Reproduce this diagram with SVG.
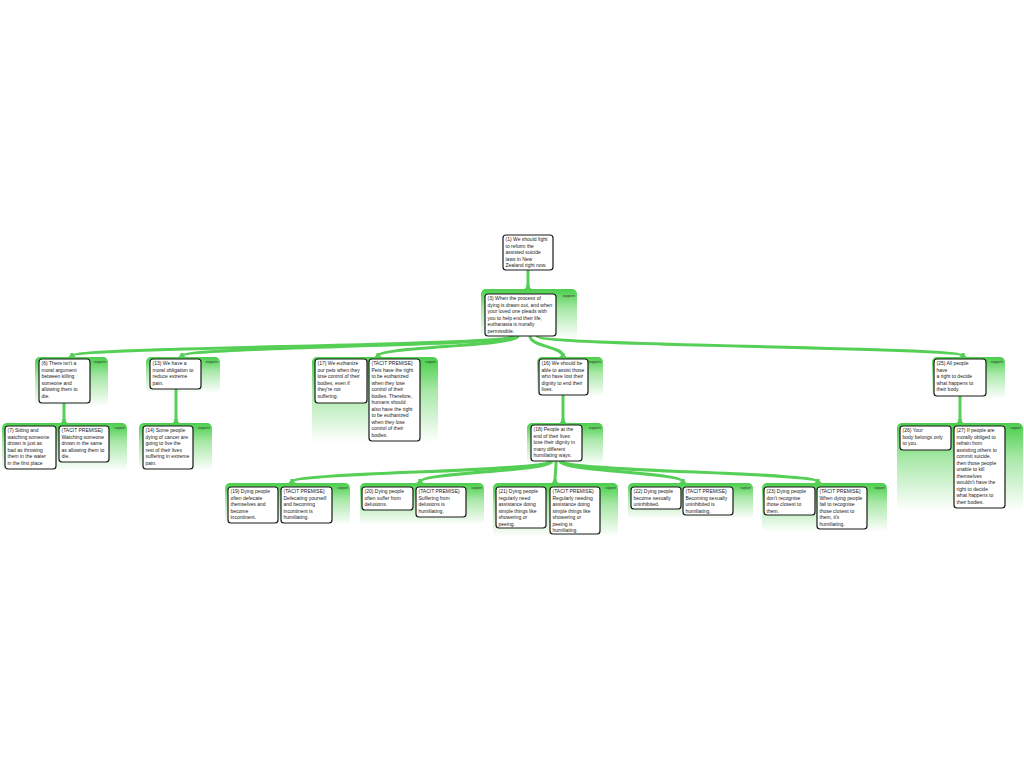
<svg xmlns="http://www.w3.org/2000/svg" width="1024" height="768" viewBox="0 0 1024 768">
<style>
.box{fill:#fff;stroke:#1a1a1a;stroke-width:1.2}
.t{font-family:"Liberation Sans",Arial,sans-serif;font-size:5px;fill:#1a1a1a}
.lab{font-family:"Liberation Sans",Arial,sans-serif;font-size:3.2px;fill:#333;text-anchor:end}
.cont{fill:url(#cg)}
.conn{fill:none;stroke:#55cf55;stroke-width:3;stroke-linecap:round}
.flare{fill:#55cf55}
</style>
<defs>
<linearGradient id="cg" x1="0" y1="0" x2="0" y2="1">
<stop offset="0" stop-color="#4fcd4f"/>
<stop offset="0.08" stop-color="#5ad45a"/>
<stop offset="0.4" stop-color="#a9e8a9"/>
<stop offset="1" stop-color="#ffffff"/>
</linearGradient>
</defs>
<rect width="1024" height="768" fill="#fff"/>

<!-- support containers -->
<g id="support-3"><rect class="cont" x="481" y="289" width="96" height="50" rx="5"/><text class="lab" x="575" y="297">supports</text></g>
<g id="support-6"><rect class="cont" x="35" y="357" width="73" height="50" rx="5"/><text class="lab" x="106" y="363">supports</text></g>
<g id="support-13"><rect class="cont" x="146" y="357" width="74" height="36" rx="5"/><text class="lab" x="218" y="363">supports</text></g>
<g id="support-17"><rect class="cont" x="312" y="357" width="126" height="86" rx="5"/><text class="lab" x="436" y="363">support</text></g>
<g id="support-16"><rect class="cont" x="537" y="357" width="66" height="40" rx="5"/><text class="lab" x="601" y="363">supports</text></g>
<g id="support-25"><rect class="cont" x="932" y="357" width="73" height="42" rx="5"/><text class="lab" x="1003" y="363">supports</text></g>
<g id="support-7"><rect class="cont" x="2" y="423" width="125" height="48" rx="5"/><text class="lab" x="125" y="429">support</text></g>
<g id="support-14"><rect class="cont" x="139" y="423" width="73" height="48" rx="5"/><text class="lab" x="210" y="429">supports</text></g>
<g id="support-18"><rect class="cont" x="527" y="423" width="76" height="42" rx="5"/><text class="lab" x="601" y="429">supports</text></g>
<g id="support-26"><rect class="cont" x="897" y="423" width="126" height="88" rx="5"/><text class="lab" x="1021" y="429">support</text></g>
<g id="support-19"><rect class="cont" x="225" y="483" width="125" height="42" rx="5"/><text class="lab" x="348" y="489">support</text></g>
<g id="support-20"><rect class="cont" x="360" y="483" width="124" height="42" rx="5"/><text class="lab" x="482" y="489">support</text></g>
<g id="support-21"><rect class="cont" x="493" y="483" width="125" height="54" rx="5"/><text class="lab" x="616" y="489">support</text></g>
<g id="support-22"><rect class="cont" x="628" y="483" width="125" height="36" rx="5"/><text class="lab" x="751" y="489">support</text></g>
<g id="support-23"><rect class="cont" x="762" y="483" width="125" height="49" rx="5"/><text class="lab" x="885" y="489">support</text></g>

<!-- connectors -->
<g id="connectors">
<path class="conn" d="M528,270 L528,288"/>
<path class="conn" d="M64,403 L64,422"/>
<path class="conn" d="M176,389 L176,422"/>
<path class="conn" d="M563,395 L563,422"/>
<path class="conn" d="M960,396 L960,422"/>
<path class="conn" d="M511,336 C511,346.5 72,346.5 72,356"/>
<path class="conn" d="M514,336 C514,346.5 182,346.5 182,356"/>
<path class="conn" d="M518,336 C518,346.5 378,346.5 378,356"/>
<path class="conn" d="M530,336 C530,346.5 563,346.5 563,356"/>
<path class="conn" d="M537,336 C537,346.5 963,346.5 963,356"/>
<path class="conn" d="M549,461 C549,472 292,472 292,482"/>
<path class="conn" d="M552,461 C552,472 420,472 420,482"/>
<path class="conn" d="M556,461 C556,472 555,472 555,482"/>
<path class="conn" d="M560,461 C560,472 683,472 683,482"/>
<path class="conn" d="M563,461 C563,472 818,472 818,482"/>
<path class="flare" d="M526.5,285 Q526.5,289.5 521,289.5 L535,289.5 Q529.5,289.5 529.5,285 Z"/>
<path class="flare" d="M62.5,419 Q62.5,423.5 57,423.5 L71,423.5 Q65.5,423.5 65.5,419 Z"/>
<path class="flare" d="M174.5,419 Q174.5,423.5 169,423.5 L183,423.5 Q177.5,423.5 177.5,419 Z"/>
<path class="flare" d="M561.5,419 Q561.5,423.5 556,423.5 L570,423.5 Q564.5,423.5 564.5,419 Z"/>
<path class="flare" d="M958.5,419 Q958.5,423.5 953,423.5 L967,423.5 Q961.5,423.5 961.5,419 Z"/>
<path class="flare" d="M70.5,353 Q70.5,357.5 65,357.5 L79,357.5 Q73.5,357.5 73.5,353 Z"/>
<path class="flare" d="M180.5,353 Q180.5,357.5 175,357.5 L189,357.5 Q183.5,357.5 183.5,353 Z"/>
<path class="flare" d="M376.5,353 Q376.5,357.5 371,357.5 L385,357.5 Q379.5,357.5 379.5,353 Z"/>
<path class="flare" d="M561.5,353 Q561.5,357.5 556,357.5 L570,357.5 Q564.5,357.5 564.5,353 Z"/>
<path class="flare" d="M961.5,353 Q961.5,357.5 956,357.5 L970,357.5 Q964.5,357.5 964.5,353 Z"/>
<path class="flare" d="M290.5,479 Q290.5,483.5 285,483.5 L299,483.5 Q293.5,483.5 293.5,479 Z"/>
<path class="flare" d="M418.5,479 Q418.5,483.5 413,483.5 L427,483.5 Q421.5,483.5 421.5,479 Z"/>
<path class="flare" d="M553.5,479 Q553.5,483.5 548,483.5 L562,483.5 Q556.5,483.5 556.5,479 Z"/>
<path class="flare" d="M681.5,479 Q681.5,483.5 676,483.5 L690,483.5 Q684.5,483.5 684.5,479 Z"/>
<path class="flare" d="M816.5,479 Q816.5,483.5 811,483.5 L825,483.5 Q819.5,483.5 819.5,479 Z"/>
</g>

<!-- nodes -->
<g id="node-1"><rect class="box" x="503" y="235" width="50" height="35" rx="3"/>
<text class="t" x="505.5" y="241.2"><tspan x="505.5">(1) We should fight</tspan><tspan x="505.5" dy="6.5">to reform the</tspan><tspan x="505.5" dy="6.5">assisted suicide</tspan><tspan x="505.5" dy="6.5">laws in New</tspan><tspan x="505.5" dy="6.5">Zealand right now.</tspan></text></g>

<g id="node-3"><rect class="box" x="485" y="294" width="71" height="42" rx="3"/>
<text class="t" x="487.5" y="300.2"><tspan x="487.5">(3) When the process of</tspan><tspan x="487.5" dy="6.5">dying is drawn out, and when</tspan><tspan x="487.5" dy="6.5">your loved one pleads with</tspan><tspan x="487.5" dy="6.5">you to help end their life,</tspan><tspan x="487.5" dy="6.5">euthanasia is morally</tspan><tspan x="487.5" dy="6.5">permissible.</tspan></text></g>

<g id="node-6"><rect class="box" x="39" y="359" width="51" height="44" rx="3"/>
<text class="t" x="41.5" y="365.2"><tspan x="41.5">(6) There isn't a</tspan><tspan x="41.5" dy="6.5">moral argument</tspan><tspan x="41.5" dy="6.5">between killing</tspan><tspan x="41.5" dy="6.5">someone and</tspan><tspan x="41.5" dy="6.5">allowing them to</tspan><tspan x="41.5" dy="6.5">die.</tspan></text></g>

<g id="node-13"><rect class="box" x="150" y="359" width="51" height="30" rx="3"/>
<text class="t" x="152.5" y="365.2"><tspan x="152.5">(13) We have a</tspan><tspan x="152.5" dy="6.5">moral obligation to</tspan><tspan x="152.5" dy="6.5">reduce extreme</tspan><tspan x="152.5" dy="6.5">pain.</tspan></text></g>

<g id="node-17"><rect class="box" x="315" y="359" width="52" height="44" rx="3"/>
<text class="t" x="317.5" y="365.2"><tspan x="317.5">(17) We euthanize</tspan><tspan x="317.5" dy="6.5">our pets when they</tspan><tspan x="317.5" dy="6.5">lose control of their</tspan><tspan x="317.5" dy="6.5">bodies, even if</tspan><tspan x="317.5" dy="6.5">they're not</tspan><tspan x="317.5" dy="6.5">suffering.</tspan></text></g>

<g id="node-17t"><rect class="box" x="369" y="359" width="51" height="82" rx="3"/>
<text class="t" x="371.5" y="365.2"><tspan x="371.5">(TACIT PREMISE)</tspan><tspan x="371.5" dy="6.5">Pets have the right</tspan><tspan x="371.5" dy="6.5">to be euthanized</tspan><tspan x="371.5" dy="6.5">when they lose</tspan><tspan x="371.5" dy="6.5">control of their</tspan><tspan x="371.5" dy="6.5">bodies. Therefore,</tspan><tspan x="371.5" dy="6.5">humans should</tspan><tspan x="371.5" dy="6.5">also have the right</tspan><tspan x="371.5" dy="6.5">to be euthanized</tspan><tspan x="371.5" dy="6.5">when they lose</tspan><tspan x="371.5" dy="6.5">control of their</tspan><tspan x="371.5" dy="6.5">bodies.</tspan></text></g>

<g id="node-16"><rect class="box" x="539" y="359" width="49" height="36" rx="3"/>
<text class="t" x="541.5" y="365.2"><tspan x="541.5">(16) We should be</tspan><tspan x="541.5" dy="6.5">able to assist those</tspan><tspan x="541.5" dy="6.5">who have lost their</tspan><tspan x="541.5" dy="6.5">dignity to end their</tspan><tspan x="541.5" dy="6.5">lives.</tspan></text></g>

<g id="node-25"><rect class="box" x="934" y="359" width="52" height="37" rx="3"/>
<text class="t" x="936.5" y="365.2"><tspan x="936.5">(25) All people</tspan><tspan x="936.5" dy="6.5">have</tspan><tspan x="936.5" dy="6.5">a right to decide</tspan><tspan x="936.5" dy="6.5">what happens to</tspan><tspan x="936.5" dy="6.5">their body.</tspan></text></g>

<g id="node-7"><rect class="box" x="5" y="426" width="51" height="43" rx="3"/>
<text class="t" x="7.5" y="432.2"><tspan x="7.5">(7) Sitting and</tspan><tspan x="7.5" dy="6.5">watching someone</tspan><tspan x="7.5" dy="6.5">drown is just as</tspan><tspan x="7.5" dy="6.5">bad as throwing</tspan><tspan x="7.5" dy="6.5">them in the water</tspan><tspan x="7.5" dy="6.5">in the first place</tspan></text></g>

<g id="node-7t"><rect class="box" x="59" y="426" width="50" height="36" rx="3"/>
<text class="t" x="61.5" y="432.2"><tspan x="61.5">(TACIT PREMISE)</tspan><tspan x="61.5" dy="6.5">Watching someone</tspan><tspan x="61.5" dy="6.5">drown in the same</tspan><tspan x="61.5" dy="6.5">as allowing them to</tspan><tspan x="61.5" dy="6.5">die.</tspan></text></g>

<g id="node-14"><rect class="box" x="143" y="426" width="50" height="43" rx="3"/>
<text class="t" x="145.5" y="432.2"><tspan x="145.5">(14) Some people</tspan><tspan x="145.5" dy="6.5">dying of cancer are</tspan><tspan x="145.5" dy="6.5">going to live the</tspan><tspan x="145.5" dy="6.5">rest of their lives</tspan><tspan x="145.5" dy="6.5">suffering in extreme</tspan><tspan x="145.5" dy="6.5">pain.</tspan></text></g>

<g id="node-18"><rect class="box" x="531" y="425" width="51" height="36" rx="3"/>
<text class="t" x="533.5" y="431.2"><tspan x="533.5">(18) People at the</tspan><tspan x="533.5" dy="6.5">end of their lives</tspan><tspan x="533.5" dy="6.5">lose their dignity in</tspan><tspan x="533.5" dy="6.5">many different</tspan><tspan x="533.5" dy="6.5">humiliating ways.</tspan></text></g>

<g id="node-26"><rect class="box" x="900" y="426" width="51" height="24" rx="3"/>
<text class="t" x="902.5" y="432.2"><tspan x="902.5">(26) Your</tspan><tspan x="902.5" dy="6.5">body belongs only</tspan><tspan x="902.5" dy="6.5">to you.</tspan></text></g>

<g id="node-27"><rect class="box" x="954" y="426" width="51" height="82" rx="3"/>
<text class="t" x="956.5" y="432.2"><tspan x="956.5">(27) If people are</tspan><tspan x="956.5" dy="6.5">morally obliged to</tspan><tspan x="956.5" dy="6.5">refrain from</tspan><tspan x="956.5" dy="6.5">assisting others to</tspan><tspan x="956.5" dy="6.5">commit suicide,</tspan><tspan x="956.5" dy="6.5">then those people</tspan><tspan x="956.5" dy="6.5">unable to kill</tspan><tspan x="956.5" dy="6.5">themselves</tspan><tspan x="956.5" dy="6.5">wouldn't have the</tspan><tspan x="956.5" dy="6.5">right to decide</tspan><tspan x="956.5" dy="6.5">what happens to</tspan><tspan x="956.5" dy="6.5">their bodies.</tspan></text></g>

<g id="node-19"><rect class="box" x="228" y="487" width="50" height="36" rx="3"/>
<text class="t" x="230.5" y="493.2"><tspan x="230.5">(19) Dying people</tspan><tspan x="230.5" dy="6.5">often defecate</tspan><tspan x="230.5" dy="6.5">themselves and</tspan><tspan x="230.5" dy="6.5">become</tspan><tspan x="230.5" dy="6.5">incontinent.</tspan></text></g>

<g id="node-19t"><rect class="box" x="281" y="487" width="51" height="36" rx="3"/>
<text class="t" x="283.5" y="493.2"><tspan x="283.5">(TACIT PREMISE)</tspan><tspan x="283.5" dy="6.5">Defecating yourself</tspan><tspan x="283.5" dy="6.5">and becoming</tspan><tspan x="283.5" dy="6.5">incontinent is</tspan><tspan x="283.5" dy="6.5">humiliating.</tspan></text></g>

<g id="node-20"><rect class="box" x="362" y="487" width="51" height="23" rx="3"/>
<text class="t" x="364.5" y="493.2"><tspan x="364.5">(20) Dying people</tspan><tspan x="364.5" dy="6.5">often suffer from</tspan><tspan x="364.5" dy="6.5">delusions.</tspan></text></g>

<g id="node-20t"><rect class="box" x="416" y="487" width="50" height="30" rx="3"/>
<text class="t" x="418.5" y="493.2"><tspan x="418.5">(TACIT PREMISE)</tspan><tspan x="418.5" dy="6.5">Suffering from</tspan><tspan x="418.5" dy="6.5">delusions is</tspan><tspan x="418.5" dy="6.5">humiliating.</tspan></text></g>

<g id="node-21"><rect class="box" x="496" y="487" width="50" height="41" rx="3"/>
<text class="t" x="498.5" y="493.2"><tspan x="498.5">(21) Dying people</tspan><tspan x="498.5" dy="6.5">regularly need</tspan><tspan x="498.5" dy="6.5">assistance doing</tspan><tspan x="498.5" dy="6.5">simple things like</tspan><tspan x="498.5" dy="6.5">showering or</tspan><tspan x="498.5" dy="6.5">peeing.</tspan></text></g>

<g id="node-21t"><rect class="box" x="550" y="487" width="50" height="47" rx="3"/>
<text class="t" x="552.5" y="493.2"><tspan x="552.5">(TACIT PREMISE)</tspan><tspan x="552.5" dy="6.5">Regularly needing</tspan><tspan x="552.5" dy="6.5">assistance doing</tspan><tspan x="552.5" dy="6.5">simple things like</tspan><tspan x="552.5" dy="6.5">showering or</tspan><tspan x="552.5" dy="6.5">peeing is</tspan><tspan x="552.5" dy="6.5">humiliating.</tspan></text></g>

<g id="node-22"><rect class="box" x="631" y="487" width="50" height="22" rx="3"/>
<text class="t" x="633.5" y="493.2"><tspan x="633.5">(22) Dying people</tspan><tspan x="633.5" dy="6.5">become sexually</tspan><tspan x="633.5" dy="6.5">uninhibited.</tspan></text></g>

<g id="node-22t"><rect class="box" x="683" y="487" width="50" height="28" rx="3"/>
<text class="t" x="685.5" y="493.2"><tspan x="685.5">(TACIT PREMISE)</tspan><tspan x="685.5" dy="6.5">Becoming sexually</tspan><tspan x="685.5" dy="6.5">uninhibited is</tspan><tspan x="685.5" dy="6.5">humiliating.</tspan></text></g>

<g id="node-23"><rect class="box" x="764" y="487" width="51" height="28" rx="3"/>
<text class="t" x="766.5" y="493.2"><tspan x="766.5">(23) Dying people</tspan><tspan x="766.5" dy="6.5">don't recognise</tspan><tspan x="766.5" dy="6.5">those closest to</tspan><tspan x="766.5" dy="6.5">them.</tspan></text></g>

<g id="node-23t"><rect class="box" x="817" y="487" width="50" height="42" rx="3"/>
<text class="t" x="819.5" y="493.2"><tspan x="819.5">(TACIT PREMISE)</tspan><tspan x="819.5" dy="6.5">When dying people</tspan><tspan x="819.5" dy="6.5">fail to recognise</tspan><tspan x="819.5" dy="6.5">those closest to</tspan><tspan x="819.5" dy="6.5">them, it's</tspan><tspan x="819.5" dy="6.5">humiliating.</tspan></text></g>
</svg>
